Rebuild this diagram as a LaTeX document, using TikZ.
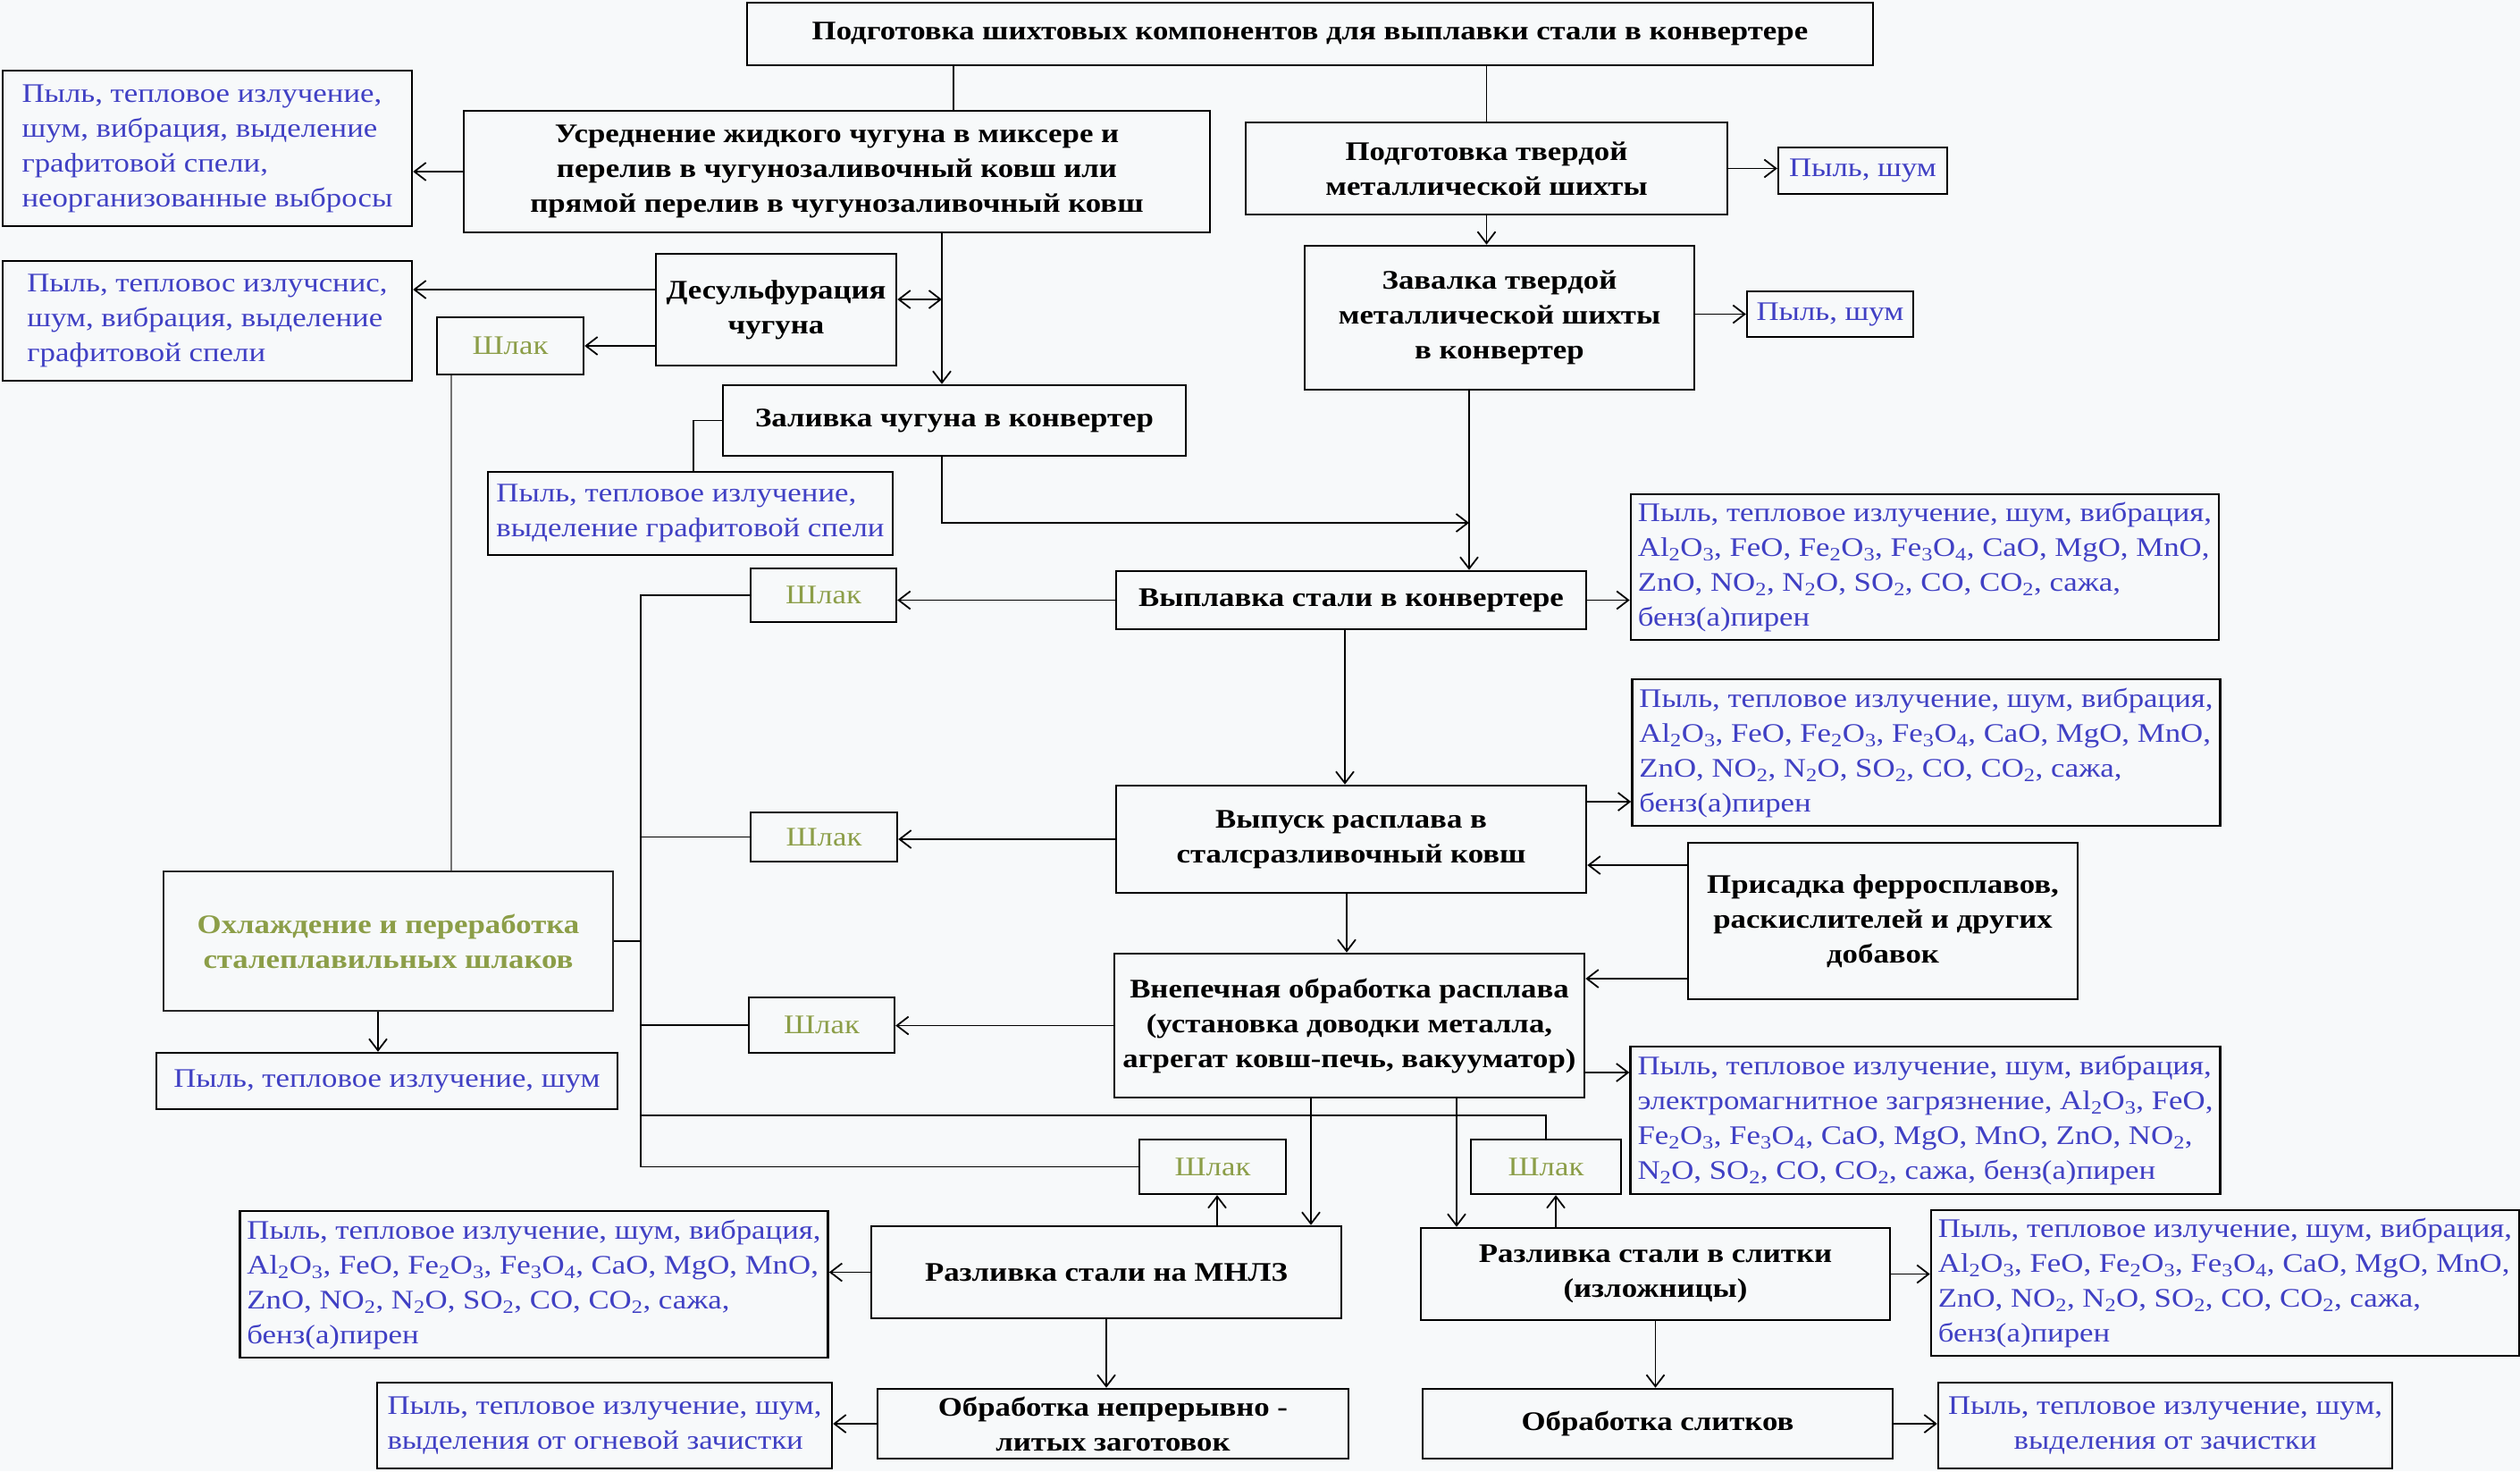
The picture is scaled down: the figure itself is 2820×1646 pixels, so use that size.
\documentclass[tikz,border=0pt]{standalone}
\usepackage{fontspec}
\setmainfont{Liberation Serif}[FakeStretch=1.16]
\usetikzlibrary{arrows.meta}
\definecolor{bgcol}{RGB}{247,249,250}
\definecolor{eblue}{RGB}{64,64,196}
\definecolor{slagcol}{RGB}{140,158,72}
\newcommand{\procfont}{\fontsize{30}{39}\selectfont\bfseries}
\newcommand{\emfont}{\fontsize{30}{39}\selectfont}
\newcommand{\sbs}[1]{\textsubscript{#1}}
\newcommand{\emfull}{Пыль, тепловое излучение, шум, вибрация,\\ Al\sbs{2}O\sbs{3}, FeO, Fe\sbs{2}O\sbs{3}, Fe\sbs{3}O\sbs{4}, CaO, MgO, MnO,\\ ZnO, NO\sbs{2}, N\sbs{2}O, SO\sbs{2}, CO, CO\sbs{2}, сажа,\\ бенз(а)пирен}
% name x1 y1 x2 y2 style text
\newcommand{\mkbox}[7]{%
  \pgfmathsetmacro{\mybw}{#4-#2}%
  \pgfmathsetmacro{\mybh}{#5-#3}%
  \pgfmathsetmacro{\mycx}{(#2+#4)/2}%
  \pgfmathsetmacro{\mycy}{(#3+#5)/2}%
  \node[#6, minimum width=\mybw pt, minimum height=\mybh pt] (#1) at (\mycx,\mycy) {#7};}
\begin{document}
\begin{tikzpicture}[x=1pt,y=-1pt,
  conn/.style={line width=1.8pt, draw=black},
  arr/.style={conn, -{Straight Barb[length=13pt,width=20pt]}},
  darr/.style={conn, {Straight Barb[length=13pt,width=20pt]}-{Straight Barb[length=13pt,width=20pt]}},
  proc/.style={draw=black, line width=2.6pt, inner xsep=8pt, inner ysep=0pt, align=center, font=\procfont, text=black},
  emis/.style={draw=black, line width=2.4pt, inner xsep=8pt, inner ysep=0pt, align=left, font=\emfont, text=eblue},
  emisc/.style={emis, align=center},
  slag/.style={draw=black, line width=2.4pt, inner sep=0pt, align=center, font=\emfont, text=slagcol},
  slagproc/.style={proc, text=slagcol, draw=black!85},
]
\fill[bgcol] (0,0) rectangle (2820,1646);
\useasboundingbox (0,0) rectangle (2820,1646);

% process boxes
\mkbox{top}{836}{3}{2096}{73}{proc}{Подготовка шихтовых компонентов для выплавки стали в конвертере}
\mkbox{usr}{519}{124}{1354}{260}{proc}{Усреднение жидкого чугуна в миксере и\\ перелив в чугунозаливочный ковш или\\ прямой перелив в чугунозаливочный ковш}
\mkbox{des}{734}{284}{1003}{409}{proc}{Десульфурация\\ чугуна}
\mkbox{zal}{809}{431}{1327}{510}{proc}{Заливка чугуна в конвертер}
\mkbox{podg}{1394}{137}{1933}{240}{proc}{Подготовка твердой\\ металлической шихты}
\mkbox{zav}{1460}{275}{1896}{436}{proc}{Завалка твердой\\ металлической шихты\\ в конвертер}
\mkbox{vyp}{1249}{639}{1775}{704}{proc}{Выплавка стали в конвертере}
\mkbox{vpk}{1249}{879}{1775}{999}{proc}{Выпуск расплава в\\ сталсразливочный ковш}
\mkbox{pris}{1889}{943}{2325}{1118}{proc}{Присадка ферросплавов,\\ раскислителей и других\\ добавок}
\mkbox{vne}{1247}{1067}{1773}{1228}{proc}{Внепечная обработка расплава\\ (установка доводки металла,\\ агрегат ковш-печь, вакууматор)}
\mkbox{mnlz}{975}{1372}{1501}{1475}{proc}{Разливка стали на МНЛЗ}
\mkbox{obn}{982}{1554}{1509}{1632}{proc}{Обработка непрерывно -\\ литых заготовок}
\mkbox{sli}{1590}{1374}{2115}{1477}{proc}{Разливка стали в слитки\\ (изложницы)}
\mkbox{obs}{1592}{1554}{2118}{1632}{proc}{Обработка слитков}
\mkbox{ohl}{183}{975}{686}{1131}{slagproc}{Охлаждение и переработка\\ сталеплавильных шлаков}

% emission boxes
\mkbox{lb1}{3}{79}{461}{253}{emis}{Пыль, тепловое излучение,\\ шум, вибрация, выделение\\ графитовой спели,\\ неорганизованные выбросы}
\mkbox{lb2}{3}{292}{461}{426}{emis}{Пыль, тепловос излучснис,\\ шум, вибрация, выделение\\ графитовой спели}
\mkbox{lb3}{546}{528}{999}{621}{emis}{Пыль, тепловое излучение,\\ выделение графитовой спели}
\mkbox{ps1}{1990}{165}{2179}{217}{emisc}{Пыль, шум}
\mkbox{ps2}{1955}{326}{2141}{377}{emisc}{Пыль, шум}
\mkbox{em1}{1827}{553}{2481}{716}{emis}{\emfull}
\mkbox{em2}{1829}{760}{2482}{924}{emis}{\emfull}
\mkbox{em3}{1828}{1171}{2481}{1336}{emis}{Пыль, тепловое излучение, шум, вибрация,\\ электромагнитное загрязнение, Al\sbs{2}O\sbs{3}, FeO,\\ Fe\sbs{2}O\sbs{3}, Fe\sbs{3}O\sbs{4}, CaO, MgO, MnO, ZnO, NO\sbs{2},\\ N\sbs{2}O, SO\sbs{2}, CO, CO\sbs{2}, сажа, бенз(а)пирен}
\mkbox{ohlE}{175}{1178}{691}{1241}{emisc}{Пыль, тепловое излучение, шум}
\mkbox{emM}{271}{1355}{924}{1519}{emis}{\emfull}
\mkbox{emO}{422}{1547}{931}{1643}{emis}{Пыль, тепловое излучение, шум,\\ выделения от огневой зачистки}
\mkbox{emS}{2164}{1354}{2816}{1517}{emis}{\emfull}
\mkbox{emOS}{2169}{1547}{2677}{1643}{emisc}{Пыль, тепловое излучение, шум,\\ выделения от зачистки}

% slag boxes
\mkbox{sl1}{489}{355}{653}{419}{slag}{Шлак}
\mkbox{sl2}{840}{636}{1003}{696}{slag}{Шлак}
\mkbox{sl3}{840}{909}{1004}{964}{slag}{Шлак}
\mkbox{sl4}{838}{1116}{1001}{1178}{slag}{Шлак}
\mkbox{slM}{1275}{1275}{1439}{1336}{slag}{Шлак}
\mkbox{sl5}{1646}{1275}{1814}{1336}{slag}{Шлак}

\coordinate (jd) at (1054,335);
\coordinate (j1) at (1644,585);
\coordinate (j2) at (717,1248);

% connectors
\draw[conn] (top.south -| 1067,0) -- (usr.north -| 1067,0);
\draw[conn] (podg.north |- top.south) -- (podg.north);
\draw[arr] (usr.west) -- (usr.west -| lb1.east);
\draw[arr] (usr.south -| 1054,0) -- (zal.north -| 1054,0);
\draw[darr] (des.east |- jd) -- (jd);
\draw[arr] (des.west |- 0,324) -- (lb2.east |- 0,324);
\draw[arr] (des.west |- sl1.east) -- (sl1.east);
\draw[conn, draw=black!55] (sl1.south -| 505,0) -- (ohl.north -| 505,0);
\draw[conn] (zal.west) -| (lb3.north -| 776,0);
\draw[arr] (zal.south -| 1054,0) |- (j1);
\draw[arr] (podg.south) -- (podg.south |- zav.north);
\draw[arr] (podg.east) -- (podg.east -| ps1.west);
\draw[arr] (zav.east |- ps2.west) -- (ps2.west);
\draw[arr] (zav.south -| 1644,0) -- (vyp.north -| 1644,0);
\draw[arr] (vyp.east) -- (vyp.east -| em1.west);
\draw[arr] (vyp.west) -- (vyp.west -| sl2.east);
\draw[arr] (vyp.south -| 1505,0) -- (vpk.north -| 1505,0);
\draw[arr] (vpk.east |- 0,897) -- (em2.west |- 0,897);
\draw[arr] (vpk.west) -- (vpk.west -| sl3.east);
\draw[arr] (pris.west |- 0,968) -- (vpk.east |- 0,968);
\draw[arr] (pris.west |- 0,1095) -- (vne.east |- 0,1095);
\draw[arr] (vpk.south -| 1507,0) -- (vne.north -| 1507,0);
\draw[arr] (vne.east |- 0,1200) -- (em3.west |- 0,1200);
\draw[arr] (vne.west) -- (vne.west -| sl4.east);
\draw[arr] (vne.south -| 1467,0) -- (mnlz.north -| 1467,0);
\draw[arr] (vne.south -| 1630,0) -- (sli.north -| 1630,0);
\draw[arr] (mnlz.north -| 1362,0) -- (slM.south -| 1362,0);
\draw[arr] (sli.north -| 1741,0) -- (sl5.south -| 1741,0);
\draw[arr] (mnlz.west) -- (mnlz.west -| emM.east);
\draw[arr] (mnlz.south) -- (mnlz.south |- obn.north);
\draw[arr] (obn.west) -- (obn.west -| emO.east);
\draw[arr] (sli.east) -- (sli.east -| emS.west);
\draw[arr] (sli.south) -- (sli.south |- obs.north);
\draw[arr] (obs.east) -- (obs.east -| emOS.west);
\draw[arr] (ohl.south -| 423,0) -- (ohlE.north -| 423,0);
% slag collector
\draw[conn] (sl2.west) -| (slM.west -| 717,0) -- (slM.west);
\draw[conn] (sl3.west) -- (sl3.west -| 717,0);
\draw[conn] (sl4.west) -- (sl4.west -| 717,0);
\draw[conn] (ohl.east) -- (ohl.east -| 717,0);
\draw[conn] (sl5.north) |- (j2);
\end{tikzpicture}
\end{document}
